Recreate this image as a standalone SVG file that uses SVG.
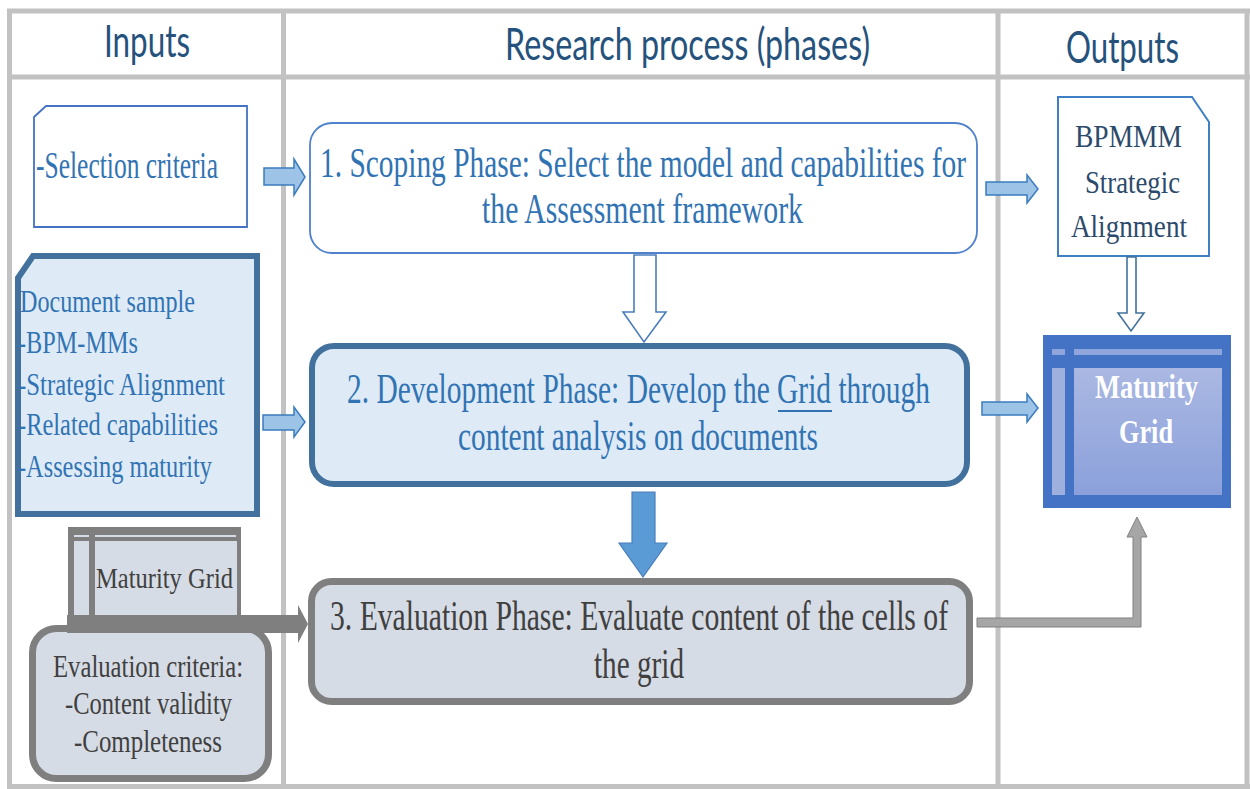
<svg xmlns="http://www.w3.org/2000/svg" width="1250" height="789" viewBox="0 0 1250 789">
<style>
.grid{stroke:#c2c2c2;stroke-width:5;fill:none}
.hdr{font-family:Lato,"Liberation Sans",sans-serif;font-size:44px;fill:#25527c}
.ser{font-family:"Liberation Serif","Times New Roman",serif}
.blue{fill:#3173b3}
.gray{fill:#404040}
.dark{fill:#2c4a6b}
.larrow{fill:#9dc3e6;stroke:#3a7cbf;stroke-width:1.5}
</style>
<defs>
<linearGradient id="mg" x1="0" y1="0" x2="0" y2="1">
<stop offset="0" stop-color="#aab8e2"/>
<stop offset="1" stop-color="#8ba0db"/>
</linearGradient>
</defs>
<rect width="1250" height="789" fill="#ffffff"/>
<g id="table">
<line class="grid" x1="7" y1="11" x2="1250" y2="11"/>
<line class="grid" x1="9.5" y1="9" x2="9.5" y2="789"/>
<line class="grid" x1="7" y1="77" x2="1250" y2="77"/>
<line class="grid" x1="283.5" y1="11" x2="283.5" y2="789"/>
<line class="grid" x1="998" y1="11" x2="998" y2="789"/>
<line class="grid" x1="1247" y1="11" x2="1247" y2="789"/>
<line class="grid" x1="7" y1="786.5" x2="1250" y2="786.5"/>
<text class="hdr" x="104" y="57" textLength="86" lengthAdjust="spacingAndGlyphs">Inputs</text>
<text class="hdr" x="505" y="60" textLength="365" lengthAdjust="spacingAndGlyphs">Research process (phases)</text>
<text class="hdr" x="1066" y="63" textLength="113" lengthAdjust="spacingAndGlyphs">Outputs</text>
</g>
<g id="selection-criteria">
<path d="M34,117 L46,106 L247,106 L247,227 L34,227 Z" fill="#ffffff" stroke="#4472c4" stroke-width="1.8"/>
<text class="ser blue" x="36" y="178" font-size="38" textLength="182" lengthAdjust="spacingAndGlyphs">-Selection criteria</text>
</g>
<g id="document-sample">
<path d="M18,278 L33,256 L257,256 L257,514 L18,514 Z" fill="#deebf7" stroke="#41719c" stroke-width="6" stroke-linejoin="miter"/>
<g class="ser blue" font-size="31">
<text x="20" y="312" textLength="175" lengthAdjust="spacingAndGlyphs">Document sample</text>
<text x="18" y="353" textLength="120" lengthAdjust="spacingAndGlyphs">-BPM-MMs</text>
<text x="18" y="395" textLength="207" lengthAdjust="spacingAndGlyphs">-Strategic Alignment</text>
<text x="18" y="435" textLength="200" lengthAdjust="spacingAndGlyphs">-Related capabilities</text>
<text x="18" y="477" textLength="194" lengthAdjust="spacingAndGlyphs">-Assessing maturity</text>
</g>
</g>
<g id="maturity-grid-input">
<rect x="68" y="527" width="173" height="94" fill="#7f7f7f"/>
<rect x="74" y="535" width="15" height="2" fill="#d6dce5"/>
<rect x="95" y="535" width="141" height="2" fill="#d6dce5"/>
<rect x="74" y="541" width="15" height="76" fill="#d6dce5"/>
<rect x="95" y="541" width="142" height="76" fill="#d6dce5"/>
<text class="ser gray" x="96" y="588" font-size="29" textLength="137" lengthAdjust="spacingAndGlyphs">Maturity Grid</text>
</g>
<g id="evaluation-criteria">
<rect x="32.5" y="628.5" width="236" height="150" rx="24" fill="#d6dce5" stroke="#7f7f7f" stroke-width="7"/>
<g class="ser gray" font-size="32">
<text x="53" y="677" textLength="190" lengthAdjust="spacingAndGlyphs">Evaluation criteria:</text>
<text x="65" y="714" textLength="167" lengthAdjust="spacingAndGlyphs">-Content validity</text>
<text x="74" y="752" textLength="148" lengthAdjust="spacingAndGlyphs">-Completeness</text>
</g>
</g>
<g id="scoping-phase">
<rect x="310" y="123" width="667" height="130" rx="22" fill="#ffffff" stroke="#4f81cc" stroke-width="1.8"/>
<g class="ser blue" font-size="42">
<text x="320" y="177" textLength="646" lengthAdjust="spacingAndGlyphs">1. Scoping Phase: Select the model and capabilities for</text>
<text x="482" y="223" textLength="321" lengthAdjust="spacingAndGlyphs">the Assessment framework</text>
</g>
</g>
<g id="development-phase">
<rect x="312" y="346" width="655" height="138" rx="22" fill="#deebf7" stroke="#41719c" stroke-width="6"/>
<g class="ser blue" font-size="42">
<text x="347" y="403" textLength="583" lengthAdjust="spacingAndGlyphs">2. Development Phase: Develop the Grid through</text>
<text x="458" y="450" textLength="360" lengthAdjust="spacingAndGlyphs">content analysis on documents</text>
</g>
<line x1="778" y1="411" x2="832" y2="411" stroke="#3173b3" stroke-width="2"/>
</g>
<g id="evaluation-phase">
<rect x="311.5" y="581.5" width="658" height="120" rx="20" fill="#d6dce5" stroke="#7f7f7f" stroke-width="7"/>
<g class="ser gray" font-size="42">
<text x="330" y="630" textLength="618" lengthAdjust="spacingAndGlyphs">3. Evaluation Phase: Evaluate content of the cells of</text>
<text x="594" y="678" textLength="90" lengthAdjust="spacingAndGlyphs">the grid</text>
</g>
</g>
<g id="bpmmm-strategic-alignment">
<path d="M1058,97 L1192,97 L1209,122 L1209,256 L1058,256 Z" fill="#ffffff" stroke="#3f7fc4" stroke-width="2"/>
<g class="ser dark" font-size="32">
<text x="1075" y="147" textLength="107" lengthAdjust="spacingAndGlyphs">BPMMM</text>
<text x="1085" y="193" textLength="95" lengthAdjust="spacingAndGlyphs">Strategic</text>
<text x="1071" y="237" textLength="116" lengthAdjust="spacingAndGlyphs">Alignment</text>
</g>
</g>
<g id="maturity-grid-output">
<rect x="1043" y="335" width="188" height="173" fill="#4472c4"/>
<rect x="1052" y="349" width="13" height="6" fill="#8fa6dc"/>
<rect x="1074" y="349" width="148" height="6" fill="#8fa6dc"/>
<rect x="1052" y="368" width="13" height="127" fill="#9fb0df"/>
<rect x="1074" y="368" width="148" height="127" fill="url(#mg)"/>
<g class="ser" font-size="34" font-weight="bold" fill="#ffffff">
<text x="1095" y="398" textLength="103" lengthAdjust="spacingAndGlyphs">Maturity</text>
<text x="1119" y="443" textLength="54" lengthAdjust="spacingAndGlyphs">Grid</text>
</g>
</g>
<g id="connectors">
<polygon class="larrow" points="264,168 294,168 294,159 305,177 294,195 294,185 264,185"/>
<polygon class="larrow" points="263,415 294,415 294,407 305,422 294,437 294,430 263,430"/>
<polygon class="larrow" points="986,182 1027,182 1027,175 1038,189 1027,203 1027,195 986,195"/>
<polygon class="larrow" points="982,402 1027,402 1027,394 1038,408 1027,422 1027,415 982,415"/>
<polygon points="634,255 656,255 656,312 666,312 644,342 623,312 634,312" fill="#ffffff" stroke="#4a7ebb" stroke-width="1.6"/>
<polygon points="1127,257 1136,257 1136,313 1144,313 1131,331 1118,313 1127,313" fill="#ffffff" stroke="#41719c" stroke-width="1.6"/>
<polygon points="632,492 655,492 655,543 667,543 643,577 619,543 632,543" fill="#5b9bd5" stroke="#4a7ebb" stroke-width="1.2"/>
<polygon points="67,615 298,615 298,605 308,624 298,643 298,633 67,633" fill="#7f7f7f"/>
<polygon points="977,618 1133,618 1133,537 1127,537 1137,517 1147,537 1141,537 1141,627 977,627" fill="#a6a6a6" stroke="#808080" stroke-width="1"/>
</g>
</svg>
